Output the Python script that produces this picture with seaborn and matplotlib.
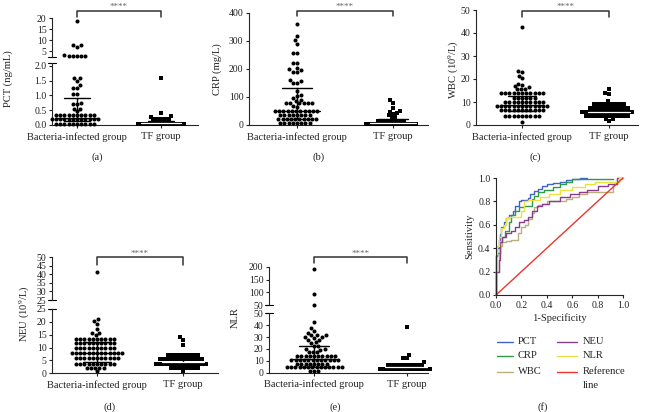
import warnings

import matplotlib
matplotlib.use("Agg")
import matplotlib.pyplot as plt
from matplotlib.lines import Line2D
from matplotlib.transforms import blended_transform_factory
import seaborn as sns

warnings.filterwarnings("ignore")

groups = ["Bacteria-infected group", "TF group"]

# PCT (ng/mL)
pct_bact = [18.7, 8.0, 7.8, 7.0, 3.3, 3.0, 3.0, 3.0, 3.0, 3.0,
            1.6, 1.6, 1.5, 1.35, 1.25, 1.25, 1.05, 1.05,
            0.73, 0.7, 0.7, 0.55, 0.55, 0.47,
            0.33, 0.33, 0.33, 0.33, 0.33, 0.33, 0.33, 0.33, 0.33, 0.33,
            0.19, 0.19, 0.19, 0.19, 0.19, 0.19, 0.19, 0.19, 0.19, 0.19, 0.19, 0.19,
            0.05, 0.05, 0.05, 0.05, 0.05, 0.05, 0.05, 0.05, 0.05, 0.05]
pct_tf = [1.58, 0.42, 0.29, 0.27,
          0.19, 0.19, 0.19, 0.19, 0.19,
          0.05, 0.05, 0.05, 0.05, 0.05, 0.05, 0.05, 0.05, 0.05, 0.05, 0.05, 0.05, 0.05]
pct_med = [0.23, 0.06]
pct_q1 = [0.12, 0.05]
pct_q3 = [0.9, 0.12]

# CRP (mg/L)
crp_bact = [358, 318, 302, 290, 258, 258, 222, 222, 203, 198, 195, 190, 188,
            160, 155, 148, 148, 122, 108, 104, 97, 90, 85,
            77, 77, 77, 77, 77, 77, 66, 65,
            50, 50, 50, 50, 50, 50, 50, 50, 50, 50, 50,
            36, 36, 36, 36, 36, 36, 36, 36,
            20, 20, 20, 20, 20, 20, 20, 20, 20, 20,
            7, 7, 7, 7, 7, 7, 7, 7]
crp_tf = [88, 80, 62, 50, 48, 42, 40, 36, 30, 28,
          16, 16, 16, 16, 16, 16, 16, 16,
          3, 3, 3, 3, 3, 3, 3, 3, 3, 3, 3, 3, 3, 3]
crp_med = [50, 8]
crp_q1 = [20, 3]
crp_q3 = [133, 22]

# WBC (10^9/L)
wbc_bact = [42.5, 23.5, 23, 21.5, 20.5, 18, 17.5, 17, 16.5,
            15.5, 15.5, 15.5,
            13.8, 13.8, 13.8, 13.8, 13.8, 13.8, 13.8, 13.8, 13.8, 13.8, 13.8,
            11.9, 11.9, 11.9, 11.9, 11.9, 11.9,
            10.1, 10.1, 10.1, 10.1, 10.1, 10.1, 10.1, 10.1, 10.1, 10.1,
            8.3, 8.3, 8.3, 8.3, 8.3, 8.3, 8.3, 8.3, 8.3, 8.3, 8.3, 8.3, 8.3,
            6.4, 6.4, 6.4, 6.4, 6.4, 6.4, 6.4, 6.4, 6.4, 6.4, 6.4,
            3.7, 3.7, 3.7, 3.7, 3.7, 3.7, 3.7, 3.7, 3.7,
            1.2]
wbc_tf = [15.8, 13.8, 13.5, 10.5,
          9, 9, 9, 9, 9, 9, 9, 9, 9,
          7.3, 7.3, 7.3, 7.3, 7.3, 7.3, 7.3, 7.3, 7.3, 7.3, 7.3,
          5.6, 5.6, 5.6, 5.6, 5.6, 5.6, 5.6, 5.6, 5.6, 5.6, 5.6, 5.6, 5.6, 5.6,
          4, 4, 4, 4, 4, 4, 4, 4, 4, 4, 4, 4,
          2.4, 2.4, 1.8]
wbc_med = [8.5, 5.6]
wbc_q1 = [6, 4.3]
wbc_q3 = [12.5, 7]

# NEU (10^9/L)
neu_bact = [41.3, 21, 20.3, 19.3, 17.3, 15.8, 15.8, 15,
            13.5, 13.5, 13.5, 13.5, 13.5, 13.5, 13.5, 13.5, 13.5, 13.5,
            11.8, 11.8, 11.8, 11.8, 11.8, 11.8, 11.8, 11.8, 11.8, 11.8,
            9.8, 9.8, 9.8, 9.8, 9.8, 9.8, 9.8, 9.8, 9.8, 9.8,
            7.8, 7.8, 7.8, 7.8, 7.8, 7.8, 7.8, 7.8, 7.8, 7.8, 7.8, 7.8, 7.8,
            5.9, 5.9, 5.9, 5.9, 5.9, 5.9, 5.9, 5.9, 5.9, 5.9, 5.9,
            3.8, 3.8, 3.8, 3.8, 3.8, 3.8, 3.8, 3.8, 3.8, 3.8,
            2.1, 2.1, 2.1, 2.1, 2.1, 0.7]
neu_tf = [14, 13, 11,
          7, 7, 7, 7, 7, 7, 7, 7, 7,
          5.4, 5.4, 5.4, 5.4, 5.4, 5.4, 5.4, 5.4, 5.4, 5.4, 5.4, 5.4,
          3.8, 3.8, 3.8, 3.8, 3.8, 3.8, 3.8, 3.8, 3.8, 3.8, 3.8, 3.8, 3.8, 3.8,
          2.2, 2.2, 2.2, 2.2, 2.2, 2.2, 2.2, 2.2, 0.8]
neu_med = [7.8, 4.5]
neu_q1 = [4.5, 3.3]
neu_q3 = [12, 6]

# NLR
nlr_bact = [190, 92, 52, 42.5, 38, 35.5, 33.5, 32, 31.5, 31.5, 30, 30, 29,
            27.5, 27.5, 25.5, 25, 22.5, 22.5, 20, 20, 19.5,
            17.3, 17.3, 17.3,
            14, 14, 14, 14, 14, 14, 14, 14, 14, 14,
            10.8, 10.8, 10.8, 10.8, 10.8, 10.8, 10.8, 10.8, 10.8, 10.8, 10.8, 10.8,
            7.6, 7.6, 7.6, 7.6, 7.6, 7.6, 7.6, 7.6,
            4.4, 4.4, 4.4, 4.4, 4.4, 4.4, 4.4, 4.4, 4.4, 4.4, 4.4, 4.4, 4.4, 4.4,
            1.3, 1.3, 1.3]
nlr_tf = [38.5, 15, 12.5, 12.5, 9,
          6.5, 6.5, 6.5, 6.5, 6.5, 6.5, 6.5, 6.5, 6.5, 6.5,
          3.3, 3.3, 3.3, 3.3, 3.3, 3.3, 3.3, 3.3, 3.3, 3.3, 3.3, 3.3, 3.3, 3.3]
nlr_med = [11.5, 4.5]
nlr_q1 = [5, 3]
nlr_q3 = [22.5, 7]

# ROC curves (1-specificity, sensitivity)
roc_names = ["PCT", "CRP", "WBC", "NEU", "NLR"]
roc_colors = ["#4262c8", "#2e9a48", "#b9b07e", "#8c3d8c", "#ece23c"]
roc_pct_x = [0, 0, 0.01, 0.02, 0.03, 0.04, 0.06, 0.08, 0.1, 0.13, 0.15, 0.18, 0.2,
             0.25, 0.27, 0.3, 0.33, 0.36, 0.4, 0.45, 0.5, 0.55, 0.6, 0.66, 0.72]
roc_pct_y = [0, 0.1, 0.33, 0.4, 0.47, 0.52, 0.58, 0.62, 0.66, 0.68, 0.72, 0.76, 0.8,
             0.81, 0.83, 0.86, 0.89, 0.91, 0.93, 0.95, 0.96, 0.97, 0.98, 0.99, 1.0]
roc_crp_x = [0, 0, 0.01, 0.03, 0.05, 0.07, 0.1, 0.12, 0.15, 0.18, 0.22, 0.28, 0.3,
             0.33, 0.38, 0.45, 0.5, 0.55, 0.6, 0.7, 0.8, 0.92]
roc_crp_y = [0, 0.2, 0.33, 0.36, 0.45, 0.5, 0.55, 0.62, 0.68, 0.72, 0.75, 0.76, 0.82,
             0.85, 0.88, 0.9, 0.92, 0.95, 0.97, 0.99, 0.99, 0.99]
roc_wbc_x = [0, 0, 0.02, 0.03, 0.05, 0.08, 0.12, 0.17, 0.2, 0.23, 0.25, 0.28, 0.3,
             0.33, 0.36, 0.4, 0.48, 0.55, 0.6, 0.65, 0.72, 0.8, 0.92, 0.95, 1.0]
roc_wbc_y = [0, 0.05, 0.2, 0.35, 0.42, 0.45, 0.46, 0.47, 0.53, 0.58, 0.6, 0.65, 0.7,
             0.75, 0.77, 0.78, 0.8, 0.8, 0.82, 0.84, 0.86, 0.88, 0.88, 0.95, 1.0]
roc_neu_x = [0, 0, 0.02, 0.03, 0.05, 0.08, 0.12, 0.15, 0.18, 0.22, 0.25, 0.28, 0.32,
             0.36, 0.42, 0.5, 0.58, 0.65, 0.72, 0.8, 0.88, 0.95, 1.0]
roc_neu_y = [0, 0.1, 0.2, 0.3, 0.45, 0.5, 0.53, 0.55, 0.58, 0.62, 0.64, 0.67, 0.72,
             0.76, 0.78, 0.8, 0.84, 0.86, 0.88, 0.9, 0.93, 0.95, 1.0]
roc_nlr_x = [0, 0, 0.01, 0.02, 0.04, 0.06, 0.08, 0.1, 0.2, 0.22, 0.25, 0.35, 0.42,
             0.5, 0.6, 0.7, 0.78, 0.85, 0.97, 1.0]
roc_nlr_y = [0, 0.05, 0.35, 0.42, 0.5, 0.57, 0.6, 0.66, 0.67, 0.72, 0.8, 0.81, 0.84,
             0.86, 0.9, 0.92, 0.95, 0.97, 0.97, 1.0]
ref_x = [0, 1]
ref_y = [0, 1]

sns.set_style("ticks")
plt.rcParams["font.family"] = ["Liberation Serif", "DejaVu Serif"]
plt.rcParams["mathtext.fontset"] = "custom"
plt.rcParams["mathtext.rm"] = "Liberation Serif"
plt.rcParams["mathtext.it"] = "Liberation Serif:italic"
plt.rcParams["axes.linewidth"] = 0.8
plt.rcParams["text.color"] = "#222222"
plt.rcParams["xtick.color"] = "#222222"
plt.rcParams["ytick.color"] = "#222222"

W, H = 645, 412
fig = plt.figure(figsize=(6.45, 4.12), dpi=100)


def rect(left, top, right, bottom):
    return [left / W, 1 - bottom / H, (right - left) / W, (bottom - top) / H]


def style(ax, show_x=True):
    for s in ["top", "right"]:
        ax.spines[s].set_visible(False)
    ax.patch.set_visible(False)
    ax.tick_params(direction="out", length=2.5, width=0.8, labelsize=7, pad=1.5)
    ax.set_xlabel("")
    ax.set_ylabel("")
    if show_x:
        ax.set_xticks([0, 1])
        ax.set_xticklabels(groups, fontsize=7.6)
        ax.tick_params(axis="x", pad=2.5)
    else:
        ax.spines["bottom"].set_visible(False)
        ax.tick_params(axis="x", bottom=False, labelbottom=False)


def swarm(ax, bact, tf, lo, hi):
    b = [v for v in bact if lo < v <= hi]
    t = [v for v in tf if lo < v <= hi]
    if b:
        sns.swarmplot(x=[groups[0]] * len(b), y=b, order=groups, marker="o",
                      color="black", size=2.9, ax=ax)
    if t:
        sns.swarmplot(x=[groups[1]] * len(t), y=t, order=groups, marker="s",
                      color="black", size=2.6, ax=ax)
    for c in ax.collections:
        c.set_clip_on(False)


def iqr(ax, med, q1, q3):
    for i in range(2):
        ax.plot([i, i], [q1[i], q3[i]], color="black", lw=1, zorder=5)
        for q in (q1[i], q3[i]):
            ax.plot([i - 0.16, i + 0.16], [q, q], color="black", lw=1, zorder=5)
        mcol = "black" if i == 0 else "white"
        ax.plot([i - 0.24, i + 0.24], [med[i], med[i]], color=mcol, lw=0.9, zorder=6)


def brk(ax, where):
    w = ax.get_position().width * W
    y = 1 if where == "top" else 0
    ax.plot([-4 / w, 4 / w], [y, y], transform=ax.transAxes, color="black",
            lw=0.8, clip_on=False)


def bracket(ax, top, end, star):
    tr = blended_transform_factory(ax.transData, fig.transFigure)
    y1, y0 = 1 - top / H, 1 - end / H
    fig.add_artist(Line2D([0, 0, 1, 1], [y0, y1, y1, y0], transform=tr,
                          color="#333333", lw=1.1))
    fig.text(0.5, 1 - star / H, "****", transform=tr, ha="center", va="baseline",
             fontsize=6.5, color="#666666")


def ylabel(x, y, text):
    fig.text(x / W, 1 - y / H, text, rotation=90, ha="center", va="center",
             fontsize=7.6)


def panel_label(x, y, text):
    fig.text(x / W, 1 - y / H, text, ha="center", va="center", fontsize=7.6)


# (a) PCT, broken axis
a_hi = fig.add_axes(rect(52, 18.3, 198, 57.3))
a_lo = fig.add_axes(rect(52, 63.3, 198, 125))
swarm(a_hi, pct_bact, pct_tf, 2.1, 100)
swarm(a_lo, pct_bact, pct_tf, -1, 2.1)
iqr(a_lo, pct_med, pct_q1, pct_q3)
for ax in (a_hi, a_lo):
    ax.set_xlim(-0.298, 1.44)
style(a_hi, show_x=False)
style(a_lo)
a_hi.set_ylim(2.27, 20)
a_hi.set_yticks([5, 10, 15, 20])
a_lo.set_ylim(0, 2.08)
a_lo.set_yticks([0, 0.5, 1.0, 1.5, 2.0])
a_lo.set_yticklabels(["0.0", "0.5", "1.0", "1.5", "2.0"])
brk(a_hi, "bottom")
brk(a_lo, "top")
bracket(a_hi, 10.5, 16.7, 9)
ylabel(8, 79, "PCT (ng/mL)")
panel_label(97, 157, "(a)")

# (b) CRP
b_ax = fig.add_axes(rect(249, 12.7, 428, 125))
swarm(b_ax, crp_bact, crp_tf, -1, 1000)
iqr(b_ax, crp_med, crp_q1, crp_q3)
b_ax.set_xlim(-0.5, 1.365)
style(b_ax)
b_ax.set_ylim(0, 400)
b_ax.set_yticks([0, 100, 200, 300, 400])
bracket(b_ax, 10.5, 16, 9)
ylabel(217, 69, "CRP (mg/L)")
panel_label(319, 157, "(b)")

# (c) WBC
c_ax = fig.add_axes(rect(476, 10, 638, 125))
swarm(c_ax, wbc_bact, wbc_tf, -1, 1000)
iqr(c_ax, wbc_med, wbc_q1, wbc_q3)
c_ax.set_xlim(-0.529, 1.333)
style(c_ax)
c_ax.set_ylim(0, 50)
c_ax.set_yticks([0, 10, 20, 30, 40, 50])
bracket(c_ax, 10.7, 16.7, 9)
ylabel(453, 70, "WBC (10$^{9}$/L)")
panel_label(535, 157, "(c)")

# (d) NEU, broken axis
d_hi = fig.add_axes(rect(52, 257.3, 218, 300))
d_lo = fig.add_axes(rect(52, 309, 218, 373.3))
swarm(d_hi, neu_bact, neu_tf, 25, 1000)
swarm(d_lo, neu_bact, neu_tf, -1, 25)
iqr(d_lo, neu_med, neu_q1, neu_q3)
for ax in (d_hi, d_lo):
    ax.set_xlim(-0.523, 1.407)
style(d_hi, show_x=False)
style(d_lo)
d_hi.set_ylim(25, 50)
d_hi.set_yticks([25, 30, 35, 40, 45, 50])
d_lo.set_ylim(0, 25)
d_lo.set_yticks([0, 5, 10, 15, 20, 25])
brk(d_hi, "bottom")
brk(d_lo, "top")
bracket(d_hi, 257.3, 265, 255.5)
ylabel(24, 314, "NEU (10$^{9}$/L)")
panel_label(110, 407, "(d)")

# (e) NLR, broken axis
e_hi = fig.add_axes(rect(269, 266.7, 428, 305.3))
e_lo = fig.add_axes(rect(269, 313.3, 428, 372.7))
swarm(e_hi, nlr_bact, nlr_tf, 50, 1000)
swarm(e_lo, nlr_bact, nlr_tf, -1, 50)
iqr(e_lo, nlr_med, nlr_q1, nlr_q3)
for ax in (e_hi, e_lo):
    ax.set_xlim(-0.484, 1.226)
style(e_hi, show_x=False)
style(e_lo)
e_hi.set_ylim(50, 200)
e_hi.set_yticks([50, 100, 150, 200])
e_lo.set_ylim(0, 50)
e_lo.set_yticks([0, 10, 20, 30, 40, 50])
brk(e_hi, "bottom")
brk(e_lo, "top")
bracket(e_hi, 257.3, 263, 255.5)
ylabel(235, 318, "NLR")
panel_label(335, 407, "(e)")

# (f) ROC
f_ax = fig.add_axes(rect(496, 178, 623, 295))
roc_x = [roc_pct_x, roc_crp_x, roc_wbc_x, roc_neu_x, roc_nlr_x]
roc_y = [roc_pct_y, roc_crp_y, roc_wbc_y, roc_neu_y, roc_nlr_y]
for xs, ys, col in zip(roc_x, roc_y, roc_colors):
    sns.lineplot(x=xs, y=ys, estimator=None, sort=False, drawstyle="steps-pre",
                 color=col, lw=1, ax=f_ax)
sns.lineplot(x=ref_x, y=ref_y, estimator=None, color="#e8372c", lw=1, ax=f_ax)
for ln in f_ax.lines:
    ln.set_clip_on(False)
f_ax.set_xlim(0, 1)
f_ax.set_ylim(0, 1)
ticks = [0, 0.2, 0.4, 0.6, 0.8, 1.0]
f_ax.set_xticks(ticks)
f_ax.set_yticks(ticks)
f_ax.set_xticklabels([f"{t:.1f}" for t in ticks])
f_ax.set_yticklabels([f"{t:.1f}" for t in ticks])
for s in ["top", "right"]:
    f_ax.spines[s].set_visible(False)
f_ax.patch.set_visible(False)
f_ax.tick_params(direction="out", length=2.5, width=0.8, labelsize=7, pad=1.5)
f_ax.set_xlabel("1-Specificity", fontsize=7.6, labelpad=3)
f_ax.set_ylabel("Sensitivity", fontsize=7.6, labelpad=3)

# legend below the ROC panel
leg_names = roc_names + ["Reference"]
leg_colors = roc_colors + ["#e8372c"]
leg_col = [0, 0, 0, 1, 1, 1]
leg_row = [0, 1, 2, 0, 1, 2]
col_line = [(497, 513), (557, 577)]
col_text = [518, 583]
row_y = [342, 356, 372]
for i in range(6):
    x0, x1 = col_line[leg_col[i]]
    yy = 1 - row_y[leg_row[i]] / H
    fig.add_artist(Line2D([x0 / W, x1 / W], [yy, yy], color=leg_colors[i], lw=1))
    fig.text(col_text[leg_col[i]] / W, yy, leg_names[i], ha="left", va="center",
             fontsize=7.6)
fig.text(col_text[1] / W, 1 - 386 / H, "line", ha="left", va="center", fontsize=7.6)
panel_label(543, 407, "(f)")

fig.savefig("out.png", dpi=100)
